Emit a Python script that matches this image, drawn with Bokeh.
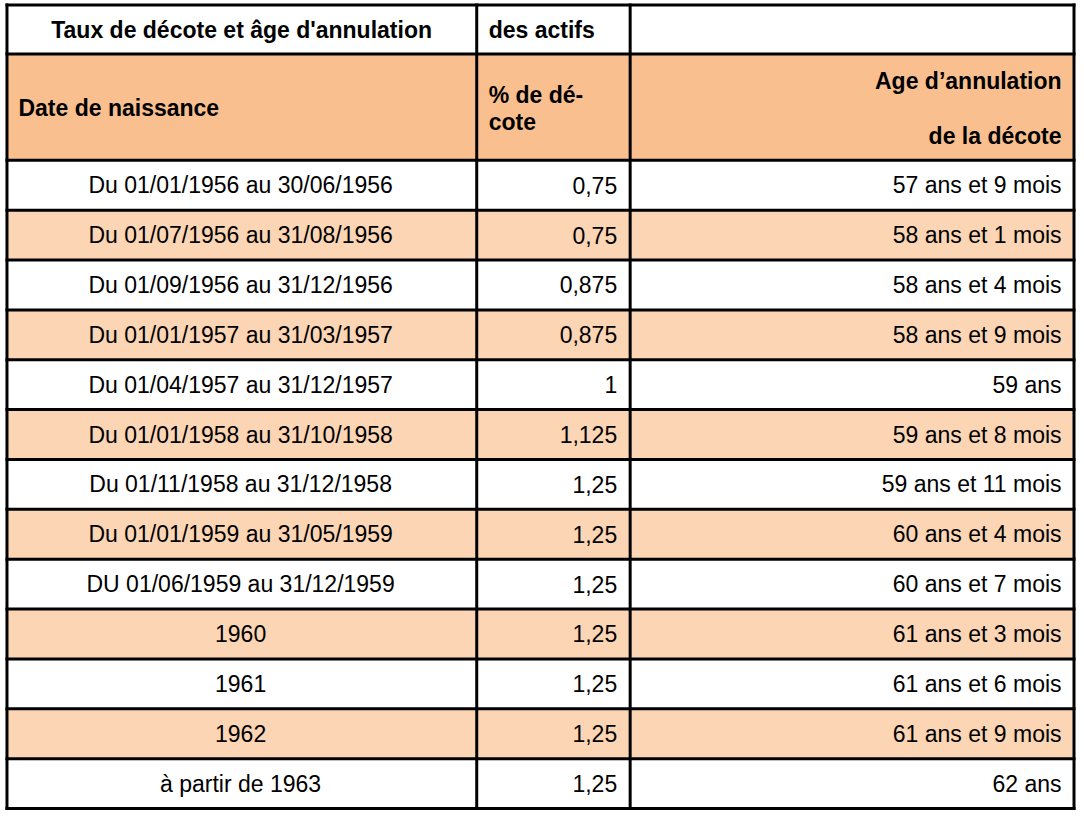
from bokeh.plotting import figure
from bokeh.models import Range1d, ColumnDataSource
from bokeh.core.properties import value
from bokeh.embed import file_html
from bokeh.resources import INLINE

# ---- data ----
title_left = "Taux de décote et âge d'annulation"
title_mid = "des actifs"
head_col1 = "Date de naissance"
head_col2 = ["% de dé-", "cote"]
head_col3 = ["Age d\u2019annulation", "de la décote"]

dates = [
    "Du 01/01/1956 au 30/06/1956",
    "Du 01/07/1956 au 31/08/1956",
    "Du 01/09/1956 au 31/12/1956",
    "Du 01/01/1957 au 31/03/1957",
    "Du 01/04/1957 au 31/12/1957",
    "Du 01/01/1958 au 31/10/1958",
    "Du 01/11/1958 au 31/12/1958",
    "Du 01/01/1959 au 31/05/1959",
    "DU 01/06/1959 au 31/12/1959",
    "1960",
    "1961",
    "1962",
    "à partir de 1963",
]
decote = ["0,75", "0,75", "0,875", "0,875", "1", "1,125", "1,25", "1,25",
          "1,25", "1,25", "1,25", "1,25", "1,25"]
ages = ["57 ans et 9 mois", "58 ans et 1 mois", "58 ans et 4 mois",
        "58 ans et 9 mois", "59 ans", "59 ans et 8 mois", "59 ans et 11 mois",
        "60 ans et 4 mois", "60 ans et 7 mois", "61 ans et 3 mois",
        "61 ans et 6 mois", "61 ans et 9 mois", "62 ans"]

# ---- layout ----
FONT = value("Liberation Sans")
FS = "23px"
X0, X1, X2, X3 = 6.5, 478, 632, 1077.5
Y0, Y1, Y2, YB = 4.5, 54, 161, 814
n = len(dates)
rh = (YB - Y2) / n
row_top = [Y2 + i * rh for i in range(n)]
row_bot = [Y2 + (i + 1) * rh for i in range(n)]
row_mid = [Y2 + (i + 0.5) * rh for i in range(n)]

HEAD_FILL = "#FABF8F"
ALT_FILL = "#FCD5B4"

p = figure(width=1076, height=810, output_backend="svg", toolbar_location=None,
           x_range=Range1d(0, 1080), y_range=Range1d(816, 0),
           min_border=0, outline_line_color=None)
p.axis.visible = False
p.grid.visible = False
p.background_fill_color = "white"
p.border_fill_color = "white"

# fills
p.quad(left=[X0], right=[X3], top=[Y1], bottom=[Y2], fill_color=HEAD_FILL, line_color=None)
fills = [ALT_FILL if i % 2 == 1 else "white" for i in range(n)]
p.quad(left=[X0] * n, right=[X3] * n, top=row_top, bottom=row_bot,
       fill_color=fills, line_color=None)

# grid lines
hy = [Y0, Y1] + row_top + [YB]
p.segment(x0=[X0 - 1.5] * len(hy), x1=[X3 + 1.5] * len(hy), y0=hy, y1=hy,
          line_color="black", line_width=3)
vx = [X0, X1, X2, X3]
p.segment(x0=vx, x1=vx, y0=[Y0 - 1.5] * 4, y1=[YB + 1.5] * 4,
          line_color="black", line_width=3)

# header texts
p.text(x=[242], y=[30], text=[title_left], text_font=FONT, text_font_size=FS,
       text_font_style="bold", text_align="center", text_baseline="middle")
p.text(x=[490], y=[30], text=[title_mid], text_font=FONT, text_font_size=FS,
       text_font_style="bold", text_align="left", text_baseline="middle")
p.text(x=[18], y=[108], text=[head_col1], text_font=FONT, text_font_size=FS,
       text_font_style="bold", text_align="left", text_baseline="middle")
p.text(x=[490, 490], y=[95, 122], text=head_col2, text_font=FONT, text_font_size=FS,
       text_font_style="bold", text_align="left", text_baseline="middle")
p.text(x=[1065, 1065], y=[81, 136], text=head_col3, text_font=FONT, text_font_size=FS,
       text_font_style="bold", text_align="right", text_baseline="middle")

# data texts
src = ColumnDataSource(dict(y=row_mid, dates=dates, decote=decote, ages=ages,
                            xc=[241] * n, xd=[619] * n, xa=[1065] * n))
p.text(x="xc", y="y", text="dates", source=src, text_font=FONT, text_font_size=FS,
       text_align="center", text_baseline="middle")
p.text(x="xd", y="y", text="decote", source=src, text_font=FONT, text_font_size=FS,
       text_align="right", text_baseline="middle")
p.text(x="xa", y="y", text="ages", source=src, text_font=FONT, text_font_size=FS,
       text_align="right", text_baseline="middle")

open("out.html", "w").write(file_html(p, INLINE))
